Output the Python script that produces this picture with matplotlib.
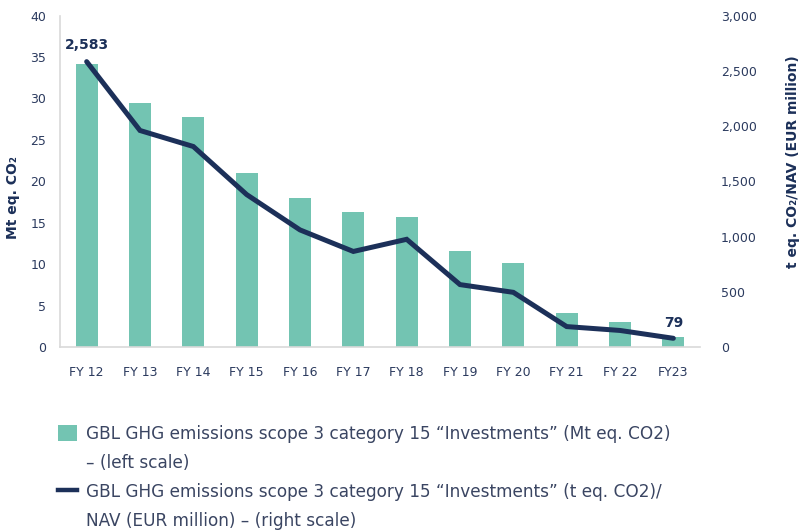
import numpy as np
from matplotlib import pyplot as plt
from matplotlib.patches import Patch
from matplotlib.lines import Line2D

# fiscal years on the x axis
years = ["FY 12", "FY 13", "FY 14", "FY 15", "FY 16", "FY 17",
         "FY 18", "FY 19", "FY 20", "FY 21", "FY 22", "FY23"]
# absolute emissions, Mt eq. CO2 (left scale)
emissions_mt = [34.2, 29.4, 27.8, 21.0, 18.0, 16.3, 15.7, 11.6, 10.2, 4.1, 3.0, 1.2]
# intensity, t eq. CO2 / NAV (EUR million) (right scale)
intensity = [2583, 1960, 1815, 1380, 1060, 865, 975, 565, 495, 185, 150, 79]

left_ticks = [0, 5, 10, 15, 20, 25, 30, 35, 40]
right_ticks = [0, 500, 1000, 1500, 2000, 2500, 3000]

BAR = "#73c4b2"
NAVY = "#1c3059"
TXT = "#2b3a5e"
GRID = "#d9d9d9"

plt.rcParams['font.family'] = ['DejaVu Sans']

fig = plt.figure(figsize=(8, 5.32), dpi=100)
ax = fig.add_axes([0.075, 0.3477, 0.8, 0.623])
x = np.arange(len(years))

ax.bar(x, emissions_mt, width=0.41, color=BAR, zorder=2)
ax.set_xlim(-0.5, len(years) - 0.5)
ax.set_ylim(0, 40)
ax.set_yticks(left_ticks)
ax.set_xticks(x)
ax.set_xticklabels(years)
ax.tick_params(axis='both', length=0, labelsize=9, colors=TXT)
ax.tick_params(axis='x', pad=14)
ax.tick_params(axis='y', pad=10)
for side in ['top', 'right']:
    ax.spines[side].set_visible(False)
for side in ['left', 'bottom']:
    ax.spines[side].set_color(GRID)
    ax.spines[side].set_linewidth(1.2)
ax.set_ylabel("Mt eq. CO\u2082", fontsize=10, fontweight='bold', color=NAVY)
ax.yaxis.set_label_coords(-0.063, 0.45)

ax2 = ax.twinx()
ax2.plot(x, intensity, color=NAVY, linewidth=3.6, solid_capstyle='round',
         solid_joinstyle='miter', zorder=3)
ax2.set_ylim(0, 3000)
ax2.set_yticks(right_ticks)
ax2.set_yticklabels([f"{v:,}" for v in right_ticks])
ax2.tick_params(axis='y', length=0, labelsize=9, colors=TXT, pad=15)
for side in ['top', 'right', 'left', 'bottom']:
    ax2.spines[side].set_visible(False)
ax2.set_ylabel("t eq. CO\u2082/NAV (EUR million)", fontsize=10, fontweight='bold',
               color=NAVY)
ax2.yaxis.set_label_coords(1.134, 0.56)

# value labels on first and last points
ax2.annotate(f"{intensity[0]:,}", (x[0], intensity[0]), xytext=(0, 7),
             textcoords='offset points', ha='center', va='bottom',
             fontsize=10, fontweight='bold', color=NAVY)
ax2.annotate(f"{intensity[-1]:,}", (x[-1], intensity[-1]), xytext=(0, 6),
             textcoords='offset points', ha='center', va='bottom',
             fontsize=10, fontweight='bold', color=NAVY)

# legend: each wrapped label continues on a row with a blank handle
blank = Patch(facecolor='none', edgecolor='none')
handles = [Patch(facecolor=BAR, edgecolor='none'), blank,
           Line2D([0], [0], color=NAVY, linewidth=3.2), blank]
labels = ["GBL GHG emissions scope 3 category 15 \u201cInvestments\u201d (Mt eq. CO2)",
          "\u2013 (left scale)",
          "GBL GHG emissions scope 3 category 15 \u201cInvestments\u201d (t eq. CO2)/",
          "NAV (EUR million) \u2013 (right scale)"]
leg = fig.legend(handles, labels, loc='upper left', bbox_to_anchor=(0.0645, 0.214),
                 frameon=False, handlelength=1.1, handleheight=1.1,
                 handletextpad=0.55, labelspacing=0.66, borderaxespad=0,
                 prop={'family': 'DejaVu Sans', 'size': 12.2})
for t in leg.get_texts():
    t.set_color("#3a4562")

fig.savefig("out.png", dpi=100)
